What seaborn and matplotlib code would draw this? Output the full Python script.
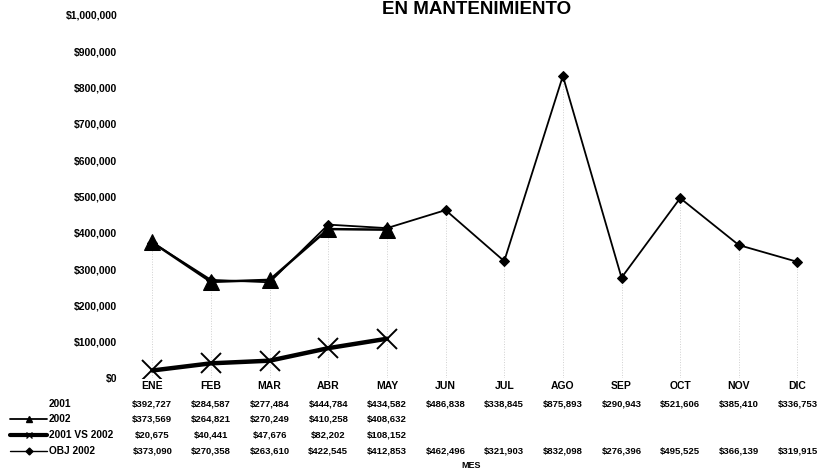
import matplotlib
matplotlib.use("Agg")
import matplotlib.pyplot as plt
import numpy as np
import pandas as pd
import seaborn as sns
from matplotlib.lines import Line2D
from matplotlib.transforms import blended_transform_factory

meses = ["ENE", "FEB", "MAR", "ABR", "MAY", "JUN", "JUL", "AGO", "SEP", "OCT", "NOV", "DIC"]
v2001 = [392727, 284587, 277484, 444784, 434582, 486838, 338845, 875893, 290943, 521606, 385410, 336753]
v2002 = [373569, 264821, 270249, 410258, 408632]
v_dif = [20675, 40441, 47676, 82202, 108152]
v_obj = [373090, 270358, 263610, 422545, 412853, 462496, 321903, 832098, 276396, 495525, 366139, 319915]
y_ticks = list(range(0, 1000001, 100000))

sns.set_style("white")
plt.rcParams["font.family"] = ["Liberation Sans", "DejaVu Sans"]
plt.rcParams["text.color"] = "black"
plt.rcParams["xtick.color"] = "black"
plt.rcParams["ytick.color"] = "black"

W, H = 818, 470
fig = plt.figure(figsize=(W / 100, H / 100), dpi=100)
ax = fig.add_axes([123 / W, 92 / H, (W - 123) / W, 363 / H])

df_2002 = pd.DataFrame({"pos": np.arange(len(v2002)), "val": v2002})
df_dif = pd.DataFrame({"pos": np.arange(len(v_dif)), "val": v_dif})
df_obj = pd.DataFrame({"pos": np.arange(len(v_obj)), "val": v_obj})

# lineas punteadas tenues (restos de las lineas de caida)
ax.vlines(df_obj["pos"], 0, df_obj["val"], colors="#d0d0d0", linestyles=":", lw=0.7, zorder=1)

sns.lineplot(data=df_obj, x="pos", y="val", ax=ax, color="black", lw=1.3,
             marker="D", markersize=5.5, mec="black", legend=False, zorder=3)
sns.lineplot(data=df_2002, x="pos", y="val", ax=ax, color="black", lw=1.8,
             marker="^", markersize=11, mec="black", legend=False, zorder=4)
sns.lineplot(data=df_dif, x="pos", y="val", ax=ax, color="black", lw=3.2,
             marker="x", markersize=15, mew=1.4, mec="black", legend=False, zorder=4)

ax.set_xlim(-0.5, 11.35)
ax.set_ylim(0, 1000000)
ax.set_yticks(y_ticks)
ax.set_yticklabels([f"${t:,}" for t in y_ticks], fontweight="bold", fontsize=7.5, color="black")
ax.set_xticks(range(len(meses)))
ax.set_xticklabels(meses, fontweight="bold", fontsize=7.5, color="black")
ax.tick_params(axis="y", length=0, pad=4)
ax.tick_params(axis="x", length=0, pad=2.5)
ax.set_xlabel("")
ax.set_ylabel("")
sns.despine(ax=ax, left=True, bottom=True)

# Tabla de datos debajo de la gráfica
trans = blended_transform_factory(ax.transData, fig.transFigure)
filas = [
    ("2001", v2001, None),
    ("2002", v2002, dict(lw=1.3, marker="^", ms=4.5)),
    ("2001 VS 2002", v_dif, dict(lw=3, marker="x", ms=4, mew=1)),
    ("OBJ 2002", v_obj, dict(lw=1, marker="D", ms=3.5)),
]
fila_y = [404, 419, 435, 451]
for (nombre, valores, estilo), yp in zip(filas, fila_y):
    yf = 1 - yp / H
    fig.text(49 / W, yf, nombre, ha="left", va="center", fontsize=7.3, fontweight="bold",
             color="black")
    if estilo is not None:
        fig.add_artist(Line2D([10 / W, 47 / W], [yf, yf], transform=fig.transFigure,
                              color="black", lw=estilo["lw"]))
        fig.add_artist(Line2D([29 / W], [yf], transform=fig.transFigure, color="black",
                              marker=estilo["marker"], ms=estilo["ms"],
                              mew=estilo.get("mew", 1), lw=0))
    for i, v in enumerate(valores):
        ax.text(i, yf, f"${v:,}", transform=trans, ha="center", va="center",
                fontsize=6.8, fontweight="bold", color="black", clip_on=False)

fig.text(471 / W, 1 - 465 / H, "MES", ha="center", va="center", fontsize=6.5,
         fontweight="bold", color="black")
fig.text(477 / W, 1 - 9 / H, "EN MANTENIMIENTO", ha="center", va="center",
         fontsize=13.5, fontweight="bold", color="black")

fig.savefig("out.png", dpi=100)
